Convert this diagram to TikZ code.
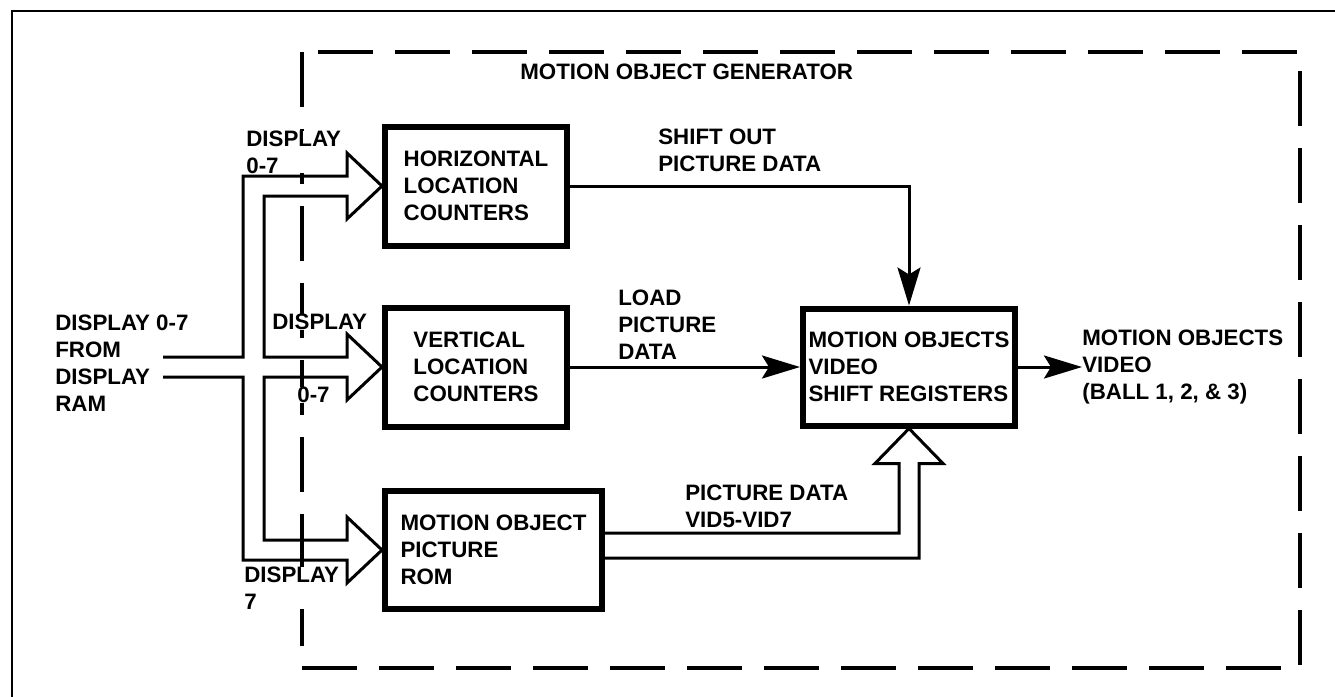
\documentclass[tikz,border=0pt]{standalone}
\usepackage{fontspec}
\setmainfont{Liberation Sans}
\usetikzlibrary{arrows.meta,positioning,calc}
\tikzset{>={Stealth[length=7.6mm,width=4.6mm,inset=1.4mm]},
 every node/.style={font=\bfseries\fontsize{12.7}{15.4}\selectfont,align=left},
 block/.style={draw,line width=1.2mm,inner sep=0pt},
 lbl/.style={anchor=west,inner sep=0pt},
 conn/.style={line width=0.6mm},
 bus/.style={line width=0.6mm,line join=miter},
 genframe/.style={line width=0.8mm,dash pattern=on 11mm off 4.4mm}}

\begin{document}
\begin{tikzpicture}[x=0.2mm,y=-0.2mm]
\useasboundingbox (0,0) rectangle (1335,696);
\draw[line width=0.4mm] (12,11) rectangle (1345,710);
\draw[genframe] (302,52) rectangle (1300,668);
\node[lbl] (title) at (520,72) {MOTION OBJECT GENERATOR};
\node[block,minimum width=36.4mm,minimum height=23.8mm] (hor) at (476,186) {HORIZONTAL\\LOCATION\\COUNTERS};
\node[block,minimum width=36.4mm,minimum height=23.8mm] (ver) at (476,367) {VERTICAL\\LOCATION\\COUNTERS};
\node[block,minimum width=43.4mm,minimum height=23.6mm] (rom) at (493.5,550) {MOTION OBJECT\\PICTURE\\ROM};
\node[block,minimum width=42.4mm,minimum height=23.4mm] (sr) at (909,367) {MOTION OBJECTS\\VIDEO\\SHIFT REGISTERS};
\node[lbl] (ram) at (55,363) {DISPLAY 0-7\\FROM\\DISPLAY\\RAM};
\node[lbl] (shiftlbl) at (658,150) {SHIFT OUT\\PICTURE DATA};
\node[lbl] (loadlbl) at (618,325) {LOAD\\PICTURE\\DATA};
\node[lbl] (piclbl) at (685,506) {PICTURE DATA\\VID5-VID7};
\node[lbl] (out) at (1082,367) {MOTION OBJECTS\\VIDEO\\(BALL 1, 2, \& 3)};
\draw[bus] ([shift={(-219,-10)}]ver.west) coordinate (bustop) -- ++(80,0)
 |- ([shift={(-35,-10)}]hor.west) -- ++(0,-23) -- (hor.west) -- ++(-35,33) -- ++(0,-23)
 -| ([shift={(-118,-10)}]ver.west) -- ([shift={(-35,-10)}]ver.west) -- ++(0,-23)
 -- (ver.west) -- ++(-35,33) -- ++(0,-23) -- ++(-83,0)
 |- ([shift={(-35,-10)}]rom.west) -- ++(0,-23) -- (rom.west) -- ++(-35,33) -- ++(0,-23)
 -- ++(-104,0) |- ([shift={(-219,10)}]ver.west) coordinate (busbot);
\draw[bus] ([shift={(0,-17)}]rom.east) -| ([shift={(-10,35)}]sr.south) -- ++(-24,0)
 -- (sr.south) -- ++(34,35) -- ++(-24,0) |- ([shift={(0,8)}]rom.east);
\draw[conn,->] (hor.east) -| (sr.north);
\draw[conn,->] (ver.east) -- (sr.west);
\draw[conn,->] (sr.east) -- (out.west);
\node[lbl,fill=white] (horin) at (246,152) {DISPLAY\\0-7};
\node[lbl,fill=white] (verin) at (272,322) {DISPLAY};
\node[lbl,fill=white] (verbits) at (297,395) {0-7};
\node[lbl,fill=white] (romin) at (244,588) {DISPLAY\\7};
\end{tikzpicture}
\end{document}
